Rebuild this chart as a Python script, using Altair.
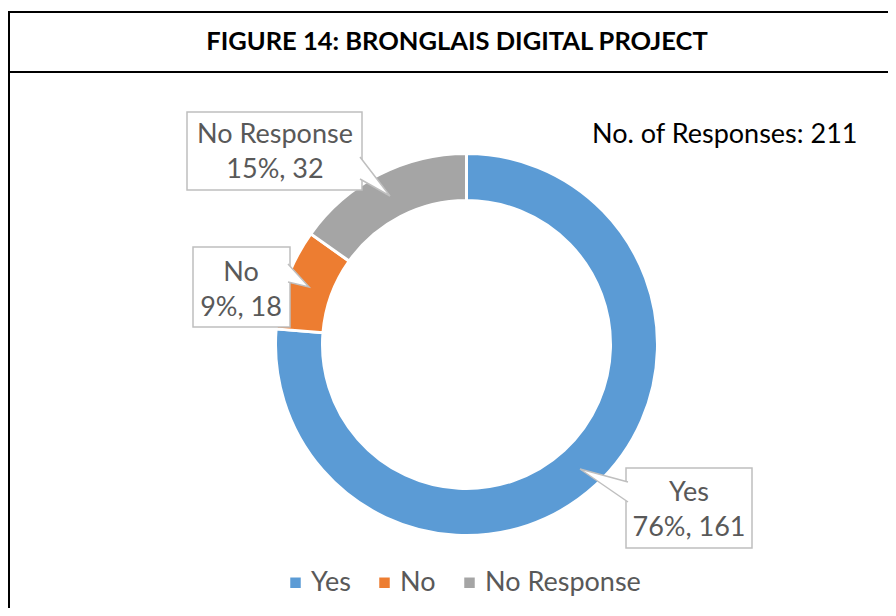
import altair as alt
import pandas as pd

# ---- data ----
categories = ["Yes", "No", "No Response"]
counts = [161, 18, 32]
percents = ["76%", "9%", "15%"]
colors = ["#5B9BD5", "#ED7D31", "#A5A5A5"]
total_label = "No. of Responses: 211"
title_text = "FIGURE 14: BRONGLAIS DIGITAL PROJECT"

FONT = "Lato"
GREY_TXT = "#595959"
BOX_STROKE = "#BFBFBF"

df = pd.DataFrame({"cat": categories, "n": counts, "order": [0, 1, 2]})

W, H = 880, 600
# identity-like pixel scales for annotations (page pixel coords)
XS = alt.Scale(domain=[8, 8 + W], range=[0, W], nice=False, zero=False)
YS = alt.Scale(domain=[8, 8 + H], range=[0, H], nice=False, zero=False)


def X(f):
    return alt.X(f, type="quantitative", scale=XS, axis=None)


def Y(f):
    return alt.Y(f, type="quantitative", scale=YS, axis=None)


# ---- layout of the frame (page pixels): filled strips ----
strips = pd.DataFrame({
    "x": [8, 8, 8], "x2": [888, 888, 10],
    "y": [11, 71, 11], "y2": [13, 73, 608],
})

boxes = pd.DataFrame({
    "cat": categories,
    "x": [626, 193, 187], "x2": [752, 290, 362],
    "y": [468, 247, 112], "y2": [548, 327, 190],
})
ptr_rows = []
ptr_pts = {
    "Yes": [(628, 482), (580, 469), (628, 502)],
    "No": [(288, 264), (309, 287), (288, 282)],
    "No Response": [(360, 157), (390, 196), (360, 179)],
}
for c, pts in ptr_pts.items():
    for i, (px, py) in enumerate(pts):
        ptr_rows.append({"cat": c, "i": i, "x": px, "y": py})
ptrs = pd.DataFrame(ptr_rows)

lbl_pos = {"Yes": (689, 493, 528), "No": (241, 273, 308), "No Response": (275, 135, 170)}
lbl_rows = []
for c, n, p in zip(categories, counts, percents):
    cx, y1, y2 = lbl_pos[c]
    lbl_rows.append({"x": cx, "y": y1, "t": c})
    lbl_rows.append({"x": cx, "y": y2, "t": f"{p}, {n}"})
lbls = pd.DataFrame(lbl_rows)

# ---- layers ----
strip_l = alt.Chart(strips).mark_rect(fill="black", strokeWidth=0).encode(
    x=X("x"), x2="x2", y=Y("y"), y2="y2")
title_l = alt.Chart(pd.DataFrame({"x": [457], "y": [42], "t": [title_text]})).mark_text(
    font=FONT, fontSize=25.5, fontWeight="bold", color="black", baseline="middle", align="center"
).encode(x=X("x"), y=Y("y"), text="t:N")

color = alt.Color(
    "cat:N",
    scale=alt.Scale(domain=categories, range=colors),
    legend=alt.Legend(
        orient="none", direction="horizontal", title=None,
        legendX=274, legendY=561,
        symbolType="square", symbolSize=110, symbolStrokeWidth=0,
        labelFont=FONT, labelFontSize=27, labelColor=GREY_TXT,
        labelOffset=2, columnPadding=20, symbolOffset=0, labelLimit=300,
    ),
)

donut = alt.Chart(df).mark_arc(
    innerRadius=144, outerRadius=191, stroke="white", strokeWidth=3
).encode(
    theta=alt.Theta("n:Q", stack=True),
    order=alt.Order("order:Q"),
    color=color,
    x=alt.value(458.5),
    y=alt.value(336.5),
)

box_l = alt.Chart(boxes).mark_rect(fill="white", stroke=BOX_STROKE, strokeWidth=1.5).encode(
    x=X("x"), x2="x2", y=Y("y"), y2="y2")
ptr_l = alt.Chart(ptrs).mark_line(fill="white", stroke=BOX_STROKE, strokeWidth=1.5).encode(
    x=X("x"), y=Y("y"), detail="cat:N", order="i:Q")
lbl_l = alt.Chart(lbls).mark_text(
    font=FONT, fontSize=27, color=GREY_TXT, baseline="middle", align="center"
).encode(x=X("x"), y=Y("y"), text="t:N")
total_l = alt.Chart(pd.DataFrame({"x": [592], "y": [135], "t": [total_label]})).mark_text(
    font=FONT, fontSize=27, color="black", baseline="middle", align="left"
).encode(x=X("x"), y=Y("y"), text="t:N")

chart = alt.layer(
    strip_l, title_l, donut, box_l, ptr_l, lbl_l, total_l
).properties(
    width=W, height=H, padding=0, background="white",
    autosize=alt.AutoSizeParams(type="none")
).configure_view(stroke="transparent", strokeWidth=0)

chart.save("out.html", embed_options={"renderer": "svg", "actions": False})
